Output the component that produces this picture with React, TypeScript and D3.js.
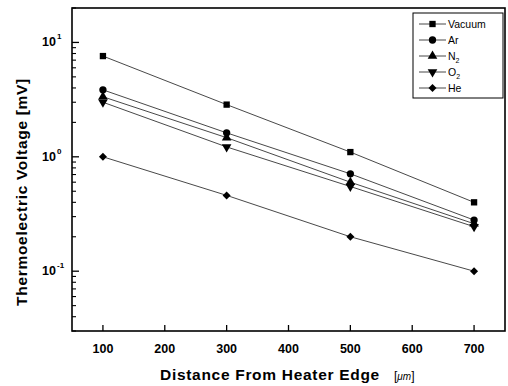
import React from "react";
import * as d3 from "d3";

const distances = [100, 300, 500, 700];
const seriesNames = ["Vacuum", "Ar", "N2", "O2", "He"];
const vacuum = [7.6, 2.86, 1.1, 0.4];
const argon = [3.85, 1.62, 0.71, 0.28];
const nitrogen = [3.35, 1.47, 0.6, 0.26];
const oxygen = [3.0, 1.22, 0.55, 0.245];
const helium = [1.0, 0.46, 0.2, 0.1];
const xTicks = [100, 200, 300, 400, 500, 600, 700];
const yMajor = [0.1, 1, 10];
const yExp = ["-1", "0", "1"];

const W = 508, H = 386;
const L = 72, R = 505, T = 8, B = 331;

export default function App() {
  const x = d3.scaleLinear().domain([50, 750]).range([L, R]);
  const y = d3.scaleLog().domain([0.03, 20]).range([B, T]);
  const all = [vacuum, argon, nitrogen, oxygen, helium];
  const symbols = [d3.symbolSquare, d3.symbolCircle, d3.symbolTriangle, d3.symbolTriangle, d3.symbolSquare];
  const sizes = [40, 42, 40, 40, 32];
  const rot = [0, 0, 0, 180, 45];
  const line = d3.line<number>().x((_, i) => x(distances[i])).y((v) => y(v));
  const minor: number[] = [];
  for (const dec of [0.01, 0.1, 1, 10]) {
    for (let k = 2; k <= 9; k++) {
      const v = dec * k;
      if (v >= 0.03 && v <= 20) minor.push(v);
    }
  }
  const font = "'Liberation Sans', Arial, sans-serif";
  const legendY = (i: number) => 24 + i * 16;
  const label = (n: string) => {
    if (n === "N2" || n === "O2")
      return (
        <>
          {n[0]}
          <tspan fontSize={7} dy={3}>2</tspan>
        </>
      );
    return n;
  };
  return (
    <svg width={W} height={H} style={{ position: "absolute", left: 0, top: 0 }} fontFamily={font}>
      <rect x={0} y={0} width={W} height={H} fill="white" />
      {all.map((vals, s) => (
        <path key={s} d={line(vals) || ""} fill="none" stroke="#333" strokeWidth={0.9} />
      ))}
      {all.map((vals, s) =>
        vals.map((v, i) => (
          <path
            key={s + "-" + i}
            d={d3.symbol().type(symbols[s]).size(sizes[s])() || ""}
            transform={`translate(${x(distances[i])},${y(v)}) rotate(${rot[s]})`}
            fill="#000"
          />
        ))
      )}
      {/* frame */}
      <rect x={L} y={T} width={R - L} height={B - T} fill="none" stroke="#000" strokeWidth={1.6} />
      {/* x ticks */}
      {xTicks.map((t) => (
        <g key={t}>
          <line x1={x(t)} x2={x(t)} y1={B} y2={B - 6} stroke="#000" strokeWidth={1.3} />
          <text x={x(t)} y={353} textAnchor="middle" fontSize={12.5} fontWeight="bold">{t}</text>
        </g>
      ))}
      {/* y ticks */}
      {yMajor.map((t, i) => (
        <g key={t}>
          <line x1={L} x2={L + 7} y1={y(t)} y2={y(t)} stroke="#000" strokeWidth={1.3} />
          <text x={56} y={y(t) + 4} textAnchor="end" fontSize={12.5} fontWeight="bold">10</text>
          <text x={57} y={y(t) - 3} textAnchor="start" fontSize={8} fontWeight="bold">{yExp[i]}</text>
        </g>
      ))}
      {minor.map((t) => (
        <line key={t} x1={L} x2={L + 4} y1={y(t)} y2={y(t)} stroke="#000" strokeWidth={1.1} />
      ))}
      {/* axis titles */}
      <text x={160} y={380} textAnchor="start" fontSize={15.5} fontWeight="bold" letterSpacing={0.7}>
        Distance From Heater Edge
      </text>
      <text x={394} y={380} fontSize={12}>
        [<tspan fontStyle="italic" fontSize={10}>μm</tspan>]
      </text>
      <text
        transform={`translate(27,192) rotate(-90)`}
        textAnchor="middle"
        fontSize={15.5}
        fontWeight="bold"
        letterSpacing={0.7}
      >
        Thermoelectric Voltage [mV]
      </text>
      {/* legend */}
      <rect x={413} y={13} width={90} height={85} fill="white" stroke="#000" strokeWidth={1} />
      {seriesNames.map((n, s) => (
        <g key={n}>
          <line x1={419} x2={446} y1={legendY(s)} y2={legendY(s)} stroke="#333" strokeWidth={0.9} />
          <path
            d={d3.symbol().type(symbols[s]).size(sizes[s])() || ""}
            transform={`translate(432.5,${legendY(s)}) rotate(${rot[s]})`}
            fill="#000"
          />
          <text x={448} y={legendY(s) + 4} fontSize={10.5}>{label(n)}</text>
        </g>
      ))}
    </svg>
  );
}
